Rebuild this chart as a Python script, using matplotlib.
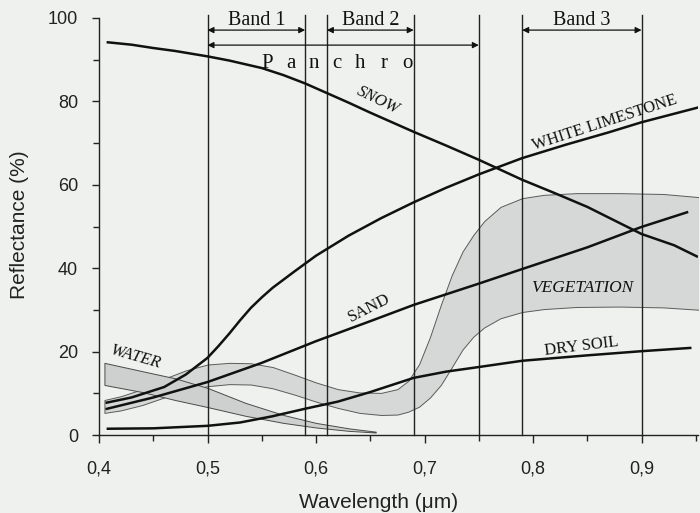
import matplotlib
matplotlib.use('Agg')
import matplotlib.pyplot as plt
import numpy as np

# spectral reflectance curves
snow_x = [0.407, 0.43, 0.45, 0.47, 0.50, 0.52, 0.55, 0.57, 0.59, 0.61, 0.63, 0.65, 0.67, 0.69,
          0.70, 0.72, 0.75, 0.77, 0.79, 0.82, 0.85, 0.87, 0.90, 0.93, 0.952]
snow_y = [94.2, 93.6, 92.8, 92.1, 90.8, 89.8, 88.0, 86.3, 84.3, 82.0, 79.7, 77.3, 75.0, 72.7,
          71.6, 69.4, 66.0, 63.6, 61.2, 58.0, 54.7, 52.1, 48.2, 45.5, 42.7]

lime_x = [0.406, 0.43, 0.46, 0.48, 0.50, 0.51, 0.52, 0.53, 0.54, 0.55, 0.56, 0.58, 0.60, 0.63,
          0.66, 0.69, 0.72, 0.75, 0.79, 0.83, 0.87, 0.90, 0.953]
lime_y = [7.7, 9.0, 11.5, 14.5, 18.5, 21.3, 24.3, 27.5, 30.5, 33.0, 35.3, 39.2, 43.0, 47.8,
          52.0, 55.8, 59.3, 62.5, 66.4, 69.6, 72.6, 75.0, 78.6]

sand_x = [0.406, 0.45, 0.50, 0.55, 0.60, 0.65, 0.69, 0.75, 0.79, 0.85, 0.90, 0.943]
sand_y = [6.2, 9.0, 12.7, 17.3, 22.5, 27.3, 31.2, 36.3, 39.8, 45.0, 49.9, 53.5]

soil_x = [0.407, 0.45, 0.50, 0.53, 0.56, 0.59, 0.62, 0.65, 0.67, 0.69, 0.72, 0.75, 0.79, 0.85, 0.90, 0.946]
soil_y = [1.5, 1.6, 2.2, 3.0, 4.5, 6.3, 8.0, 10.3, 12.0, 13.7, 15.2, 16.3, 17.8, 19.1, 20.1, 20.9]

veg_x = [0.405, 0.42, 0.44, 0.46, 0.48, 0.50, 0.52, 0.54, 0.56, 0.58, 0.60, 0.62, 0.64, 0.66,
         0.675, 0.685, 0.695, 0.705, 0.715, 0.725, 0.735, 0.745, 0.755, 0.77, 0.79, 0.81,
         0.84, 0.88, 0.92, 0.955]
veg_hi = [8.4, 9.3, 11.0, 13.5, 15.5, 16.9, 17.3, 17.2, 16.3, 14.5, 12.6, 11.0, 10.2, 10.1,
          11.0, 13.0, 17.0, 23.5, 31.2, 38.3, 44.0, 48.0, 51.3, 54.7, 56.8, 57.6,
          58.0, 58.0, 57.8, 57.0]
veg_lo = [5.3, 5.9, 7.2, 9.0, 10.6, 11.7, 12.2, 12.1, 11.2, 9.7, 8.0, 6.5, 5.3, 4.8,
          4.9, 5.6, 6.8, 9.0, 12.0, 16.2, 20.5, 23.6, 25.8, 28.0, 29.5, 30.2,
          30.7, 30.8, 30.6, 30.0]

water_x = [0.405, 0.44, 0.47, 0.50, 0.535, 0.57, 0.60, 0.63, 0.655]
water_hi = [17.3, 15.3, 13.6, 11.3, 7.7, 4.8, 2.9, 1.6, 0.8]
water_lo = [12.0, 10.3, 8.4, 6.7, 4.6, 2.9, 1.8, 1.0, 0.6]

# sensor bands (micrometres)
band_lines = [0.50, 0.59, 0.61, 0.69, 0.75, 0.79, 0.90]
bands = [('Band 1', 0.50, 0.59), ('Band 2', 0.61, 0.69), ('Band 3', 0.79, 0.90)]
panchro = (0.50, 0.75)

bg = '#eff1ef'
fig = plt.figure(figsize=(7, 5.13), dpi=100, facecolor=bg)
ax = fig.add_axes([99 / 700, 78 / 513, 599 / 700, 417 / 513])
ax.set_facecolor(bg)

# shaded envelopes
ax.fill_between(veg_x, veg_lo, veg_hi, facecolor='#d6d8d7', edgecolor='#5a5a5a', linewidth=0.7, zorder=1)
ax.fill_between(water_x, water_lo, water_hi, facecolor='#cdd0ce', edgecolor='#4a4a4a', linewidth=0.7, zorder=2)

# band boundaries
for b in band_lines:
    ax.plot([b, b], [0, 100.7], color='#222222', lw=1.0, clip_on=False, zorder=3)

# curves
for xs, ys in [(snow_x, snow_y), (lime_x, lime_y), (sand_x, sand_y), (soil_x, soil_y)]:
    ax.plot(xs, ys, color='#111111', lw=1.8, solid_capstyle='butt', solid_joinstyle='round', zorder=4)

# band arrows and labels
serif = ['Liberation Serif', 'DejaVu Serif']
for name, a, b in bands:
    ax.annotate('', xy=(a, 97.1), xytext=(b, 97.1),
                arrowprops=dict(arrowstyle='<|-|>', color='#111111', lw=0.9, mutation_scale=9,
                                shrinkA=0, shrinkB=0), annotation_clip=False)
    ax.text((a + b) / 2, 98.4, name, ha='center', va='baseline', fontsize=14.5,
            family=serif, color='#111111', clip_on=False)
ax.annotate('', xy=(panchro[0], 93.5), xytext=(panchro[1], 93.5),
            arrowprops=dict(arrowstyle='<|-|>', color='#111111', lw=0.9, mutation_scale=9,
                            shrinkA=0, shrinkB=0), annotation_clip=False)
for ch, px in zip('Panchro', np.linspace(0.555, 0.684, 7)):
    ax.text(px, 88.0, ch, ha='center', va='baseline', fontsize=15, family=serif, color='#111111')

# curve labels
lab = dict(family=serif, color='#111111', ha='center', va='center', rotation_mode='anchor', fontsize=12)
ax.text(0.657, 80.3, 'SNOW', rotation=-26, style='italic', **lab)
ax.text(0.866, 74.8, 'WHITE LIMESTONE', rotation=18, **lab)
ax.text(0.649, 30.5, 'SAND', rotation=27, **lab)
ax.text(0.845, 35.3, 'VEGETATION', style='italic', **{**lab, 'fontsize': 12.5})
ax.text(0.845, 21.3, 'DRY SOIL', rotation=7, **lab)
ax.text(0.434, 18.7, 'WATER', rotation=-16, style='italic', **lab)

# axes styling
ax.set_xlim(0.4, 0.952)
ax.set_ylim(0, 100)
for s in ['top', 'right']:
    ax.spines[s].set_visible(False)
for s in ['left', 'bottom']:
    ax.spines[s].set_linewidth(1.0)
    ax.spines[s].set_color('#222222')

ax.set_xticks([0.4, 0.5, 0.6, 0.7, 0.8, 0.9])
ax.set_xticklabels(['0,4', '0,5', '0,6', '0,7', '0,8', '0,9'])
ax.set_xticks([0.45, 0.55, 0.65, 0.75, 0.85, 0.95], minor=True)
ax.set_yticks([0, 20, 40, 60, 80, 100])
ax.set_yticks([10, 30, 50, 70, 90], minor=True)
sans = ['Liberation Sans', 'DejaVu Sans']
for t in ax.get_xticklabels() + ax.get_yticklabels():
    t.set_family(sans)
    t.set_fontsize(13)
    t.set_color('#222222')
ax.tick_params(axis='x', which='major', length=6, width=1.0, pad=12, color='#222222')
ax.tick_params(axis='x', which='minor', length=4.5, width=1.0, color='#222222')
ax.tick_params(axis='y', which='major', length=5, width=1.0, pad=10, color='#222222')
ax.tick_params(axis='y', which='minor', length=4.5, width=1.0, color='#222222')

fig.text(379 / 700, 1 - 502 / 513, 'Wavelength (\u03bcm)', ha='center', va='center',
         fontsize=15, family=sans, color='#222222')
fig.text(20 / 700, 1 - 225 / 513, 'Reflectance (%)', ha='center', va='center', rotation=90,
         fontsize=15, family=sans, color='#222222')

fig.savefig('out.png', dpi=100, facecolor=bg)
